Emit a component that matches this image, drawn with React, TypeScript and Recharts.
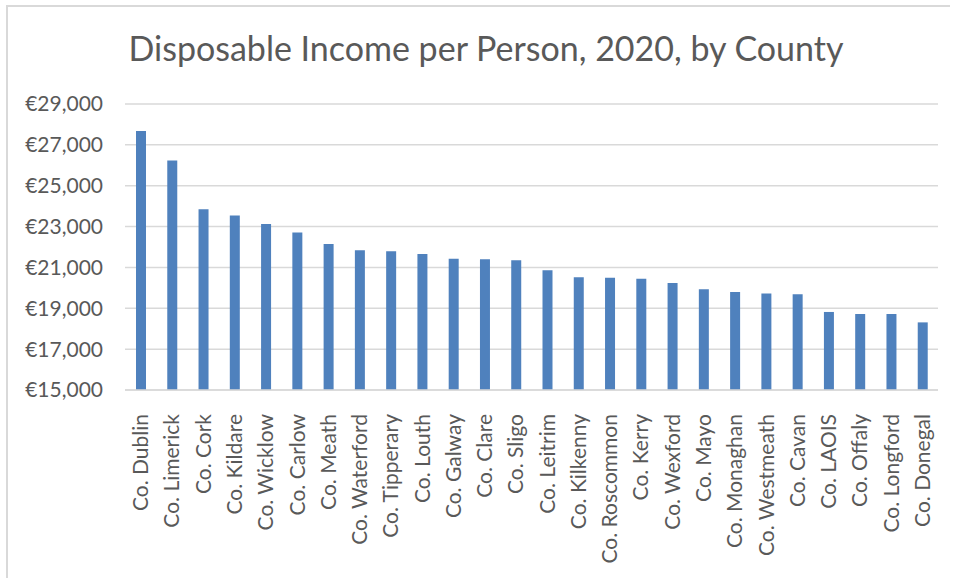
import React from 'react';
import { BarChart, Bar, XAxis, YAxis, CartesianGrid } from 'recharts';

const counties = [
  'Co. Dublin', 'Co. Limerick', 'Co. Cork', 'Co. Kildare', 'Co. Wicklow', 'Co. Carlow', 'Co. Meath',
  'Co. Waterford', 'Co. Tipperary', 'Co. Louth', 'Co. Galway', 'Co. Clare', 'Co. Sligo', 'Co. Leitrim',
  'Co. Kilkenny', 'Co. Roscommon', 'Co. Kerry', 'Co. Wexford', 'Co. Mayo', 'Co. Monaghan',
  'Co. Westmeath', 'Co. Cavan', 'Co. LAOIS', 'Co. Offaly', 'Co. Longford', 'Co. Donegal',
];
const income = [
  27680, 26240, 23850, 23540, 23120, 22710, 22150, 21840, 21790, 21660, 21420, 21400, 21350, 20860,
  20520, 20490, 20440, 20240, 19930, 19800, 19720, 19690, 18820, 18720, 18720, 18310,
];
const yTicks = [15000, 17000, 19000, 21000, 23000, 25000, 27000, 29000];

const data = counties.map((name, i) => ({ name, value: income[i] }));
const FONT = 'Lato, "Open Sans", sans-serif';
const GREY = '#595959';

const euro = (v: number) => '€' + v.toLocaleString('en-US');

function CountyTick({ x, y, payload }: any) {
  return (
    <text x={x} y={y + 16} transform={`rotate(-90, ${x}, ${y + 16})`} textAnchor="end" dy="0.36em"
      fill={GREY} fontSize={21} fontFamily={FONT}>
      {payload.value}
    </text>
  );
}

export default function App() {
  return (
    <div style={{ position: 'absolute', left: 0, top: 0, width: 956, height: 578, background: '#fff', overflow: 'hidden' }}>
      <div style={{ position: 'absolute', left: 6, top: 5, width: 942, height: 580, borderTop: '2px solid #d9d9d9', borderLeft: '2px solid #d9d9d9' }} />
      <div style={{ position: 'absolute', left: 0, top: 28, width: 972, textAlign: 'center', fontFamily: FONT, fontSize: 34, lineHeight: '40px', color: GREY }}>
        Disposable Income per Person, 2020, by County
      </div>
      <div style={{ position: 'absolute', left: 0, top: 0 }}>
        <BarChart width={956} height={578} data={data} margin={{ top: 104, right: 18, bottom: 0, left: 0 }} barSize={10}>
          <CartesianGrid vertical={false} stroke="#d9d9d9" strokeWidth={1.5} />
          <XAxis dataKey="name" interval={0} height={188} tick={<CountyTick />} tickLine={false}
            axisLine={{ stroke: '#d9d9d9', strokeWidth: 1.5 }} />
          <YAxis width={125} domain={[15000, 29000]} ticks={yTicks} tickFormatter={euro} tickLine={false}
            axisLine={false} tickSize={0} tickMargin={22}
            tick={{ fill: GREY, fontSize: 21, fontFamily: FONT }} />
          <Bar dataKey="value" fill="#4f81bd" isAnimationActive={false} />
        </BarChart>
      </div>
    </div>
  );
}
